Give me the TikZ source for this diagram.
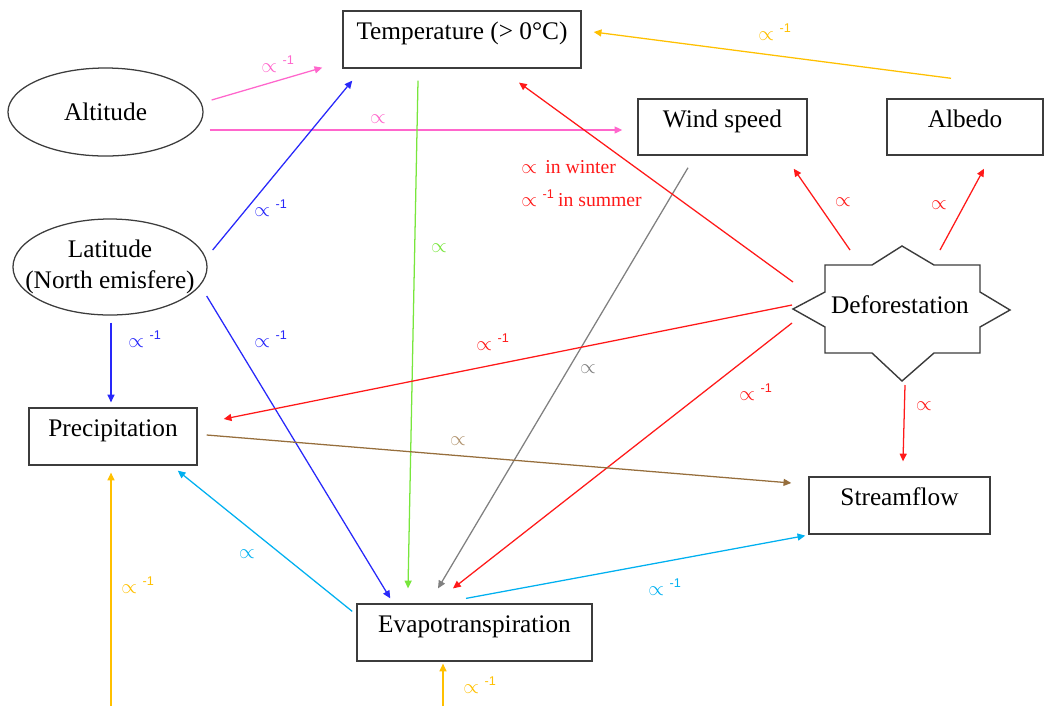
\documentclass[tikz,border=0pt]{standalone}
\usepackage{fontspec}
\setmainfont{Liberation Serif}
\newfontfamily\expfont{Liberation Sans}
\usetikzlibrary{arrows.meta, shapes.geometric, calc}
\definecolor{cpink}{RGB}{255,102,204}
\definecolor{cblue}{RGB}{40,40,250}
\definecolor{cgreen}{RGB}{120,230,60}
\definecolor{cgray}{RGB}{128,128,128}
\definecolor{cred}{RGB}{255,25,25}
\definecolor{corange}{RGB}{255,192,0}
\definecolor{cbrown}{RGB}{150,110,60}
\definecolor{ccyan}{RGB}{0,176,240}
\definecolor{edgecolor}{RGB}{60,60,60}

\newcommand{\prp}{$\propto$}
\newcommand{\prpinv}{$\propto$\hspace{4pt}\raisebox{5pt}{\expfont\fontsize{9}{9}\selectfont -1}}
\newcommand{\notefont}{\rmfamily\fontsize{14}{16}\selectfont}

\begin{document}
\begin{tikzpicture}[
    x=0.025cm, y=-0.025cm,
    every node/.style={font=\fontsize{18}{22.5}\selectfont},
    box/.style={draw=edgecolor, line width=1pt, minimum height=1.42cm, text height=12pt, text depth=12pt, inner sep=0pt},
    oval/.style={ellipse, draw=edgecolor, line width=0.9pt, inner ysep=0pt, inner xsep=-15pt, align=center},
    arr/.style={line width=0.9pt, -{Triangle[length=5.5pt, width=5pt]}},
    lab/.style={font=\fontsize{15}{17}\selectfont, inner sep=0pt},
]
\useasboundingbox (0,0) rectangle (1046,706);

% ================================================================ the variables
\node[box, minimum width=5.95cm] (temp) at (462,39.5) {Temperature (> 0°C)};
\node[box, minimum width=4.225cm, minimum height=1.4cm] (wind) at (722.5,127) {Wind speed};
\node[box, minimum width=3.9cm, minimum height=1.4cm] (albedo) at (965,127) {Albedo};
\node[box, minimum width=4.2cm] (precip) at (113,436.5) {Precipitation};
\node[box, minimum width=4.525cm] (stream) at (899.5,505.5) {Streamflow};
\node[box, minimum width=5.875cm] (evapo) at (474.5,632.5) {Evapotranspiration};
\node[oval, minimum width=4.875cm, minimum height=2.2cm] (alt) at (105.5,112) {Altitude};
\node[oval, minimum width=4.85cm, minimum height=2.4cm] (lat) at (110,267) {Latitude\\(North emisfere)};

% the star round deforestation
\node[inner sep=0pt] (defo) at (900,305) {Deforestation};
\begin{scope}[shift={(defo.center)}]
\draw[edgecolor, line width=1pt] (2,-59) -- (34,-40) -- (80,-40) -- (80,-13) -- (110,5)
    -- (80,22) -- (80,48) -- (34,48) -- (2,76) -- (-28,48) -- (-75,48) -- (-75,22)
    -- (-107,4) -- (-75,-13) -- (-75,-40) -- (-28,-40) -- cycle;
\end{scope}

% ================================================================ altitude and latitude
\draw[arr, cpink] ($(alt.east)+(8,-12)$) -- ($(temp.south west)+(-20,-1)$);
\draw[arr, cpink] ($(alt.east)+(6,18)$) -- ($(wind.west)+(-15,3)$);
\node[lab, text=cpink, anchor=base west] at (261,72) {\prpinv};
\node[lab, text=cpink, anchor=base] at (378,123) {\prp};

\draw[arr, cblue] ($(lat.east)+(5,-17)$) -- ($(temp.south west)+(10,12)$);
\draw[arr, cblue] ($(lat.east)+(-1,29)$) -- ($(evapo.north west)+(34,-5)$);
\draw[arr, cblue] ($(lat.south)+(1,7)$) -- ($(precip.north)+(-2,-5)$);
\node[lab, text=cblue, anchor=base west] at (254,216) {\prpinv};
\node[lab, text=cblue, anchor=base west] at (254,347) {\prpinv};
\node[lab, text=cblue, anchor=base west] at (128,347) {\prpinv};

% ================================================================ temperature, wind, albedo
\draw[arr, cgreen] ($(temp.south)+(-44,12)$) -- ($(evapo.north)+(-66.5,-15)$);
\node[lab, text=cgreen, anchor=base] at (439,252) {\prp};

\draw[arr, cgray] ($(wind.south)+(-34.5,12)$) -- ($(evapo.north)+(-36.5,-15)$);
\node[lab, text=cgray, anchor=base] at (588,373) {\prp};

\draw[arr, corange] ($(albedo.north)+(-14,-20)$) -- ($(temp.east)+(12,-7.5)$);
\node[lab, text=corange, anchor=base west] at (758,40) {\prpinv};

% ================================================================ deforestation
\draw[arr, cred] ($(defo.center)+(-107,-23)$) -- ($(temp.south)+(57,14)$);
\node[lab, text=cred, anchor=base west] (winter) at (521,173) {\prp\hspace{6pt}{\notefont in winter}};
\node[lab, text=cred, anchor=base west] (summer) at (521,206) {\prpinv\hspace{3pt}{\notefont in summer}};

\draw[arr, cred] ($(defo.center)+(-108,0)$) -- ($(precip.east)+(26,-17.5)$);
\node[lab, text=cred, anchor=base west] at (476,350) {\prpinv};

\draw[arr, cred] ($(defo.center)+(-108,18)$) -- ($(evapo.north)+(-21.5,-15)$);
\node[lab, text=cred, anchor=base west] at (739,400) {\prpinv};

\draw[arr, cred] ($(defo.center)+(-50,-55)$) -- ($(wind.south east)+(-14,13)$);
\draw[arr, cred] ($(defo.center)+(40,-55)$) -- ($(albedo.south)+(19,13)$);
\draw[arr, cred] ($(defo.center)+(5,80)$) -- ($(stream.north)+(3.5,-15)$);
\node[lab, text=cred, anchor=base] at (843,206) {\prp};
\node[lab, text=cred, anchor=base] at (939,209) {\prp};
\node[lab, text=cred, anchor=base] at (924,410) {\prp};

% ================================================================ water balance
\draw[arr, cbrown] ($(precip.east)+(9,-1.5)$) -- ($(stream.west)+(-17,-22.5)$);
\node[lab, text=cbrown!75, anchor=base] at (458,445) {\prp};

\draw[arr, ccyan] ($(evapo.north west)+(-4,8)$) -- ($(precip.south east)+(-20,5)$);
\node[lab, text=ccyan, anchor=base] at (247,558) {\prp};
\draw[arr, ccyan] ($(evapo.north)+(-8.5,-5)$) -- ($(stream.south west)+(-3,1)$);
\node[lab, text=ccyan, anchor=base west] at (648,595) {\prpinv};

\coordinate (rainin) at (111,706);
\coordinate (evapin) at (443,706);
\draw[arr, corange] (rainin) -- ($(precip.south)+(-2,7)$);
\node[lab, text=corange, anchor=base west] at (121,593) {\prpinv};
\draw[arr, corange] (evapin) -- ($(evapo.south)+(-31.5,2)$);
\node[lab, text=corange, anchor=base west] at (463,693) {\prpinv};
\end{tikzpicture}
\end{document}
